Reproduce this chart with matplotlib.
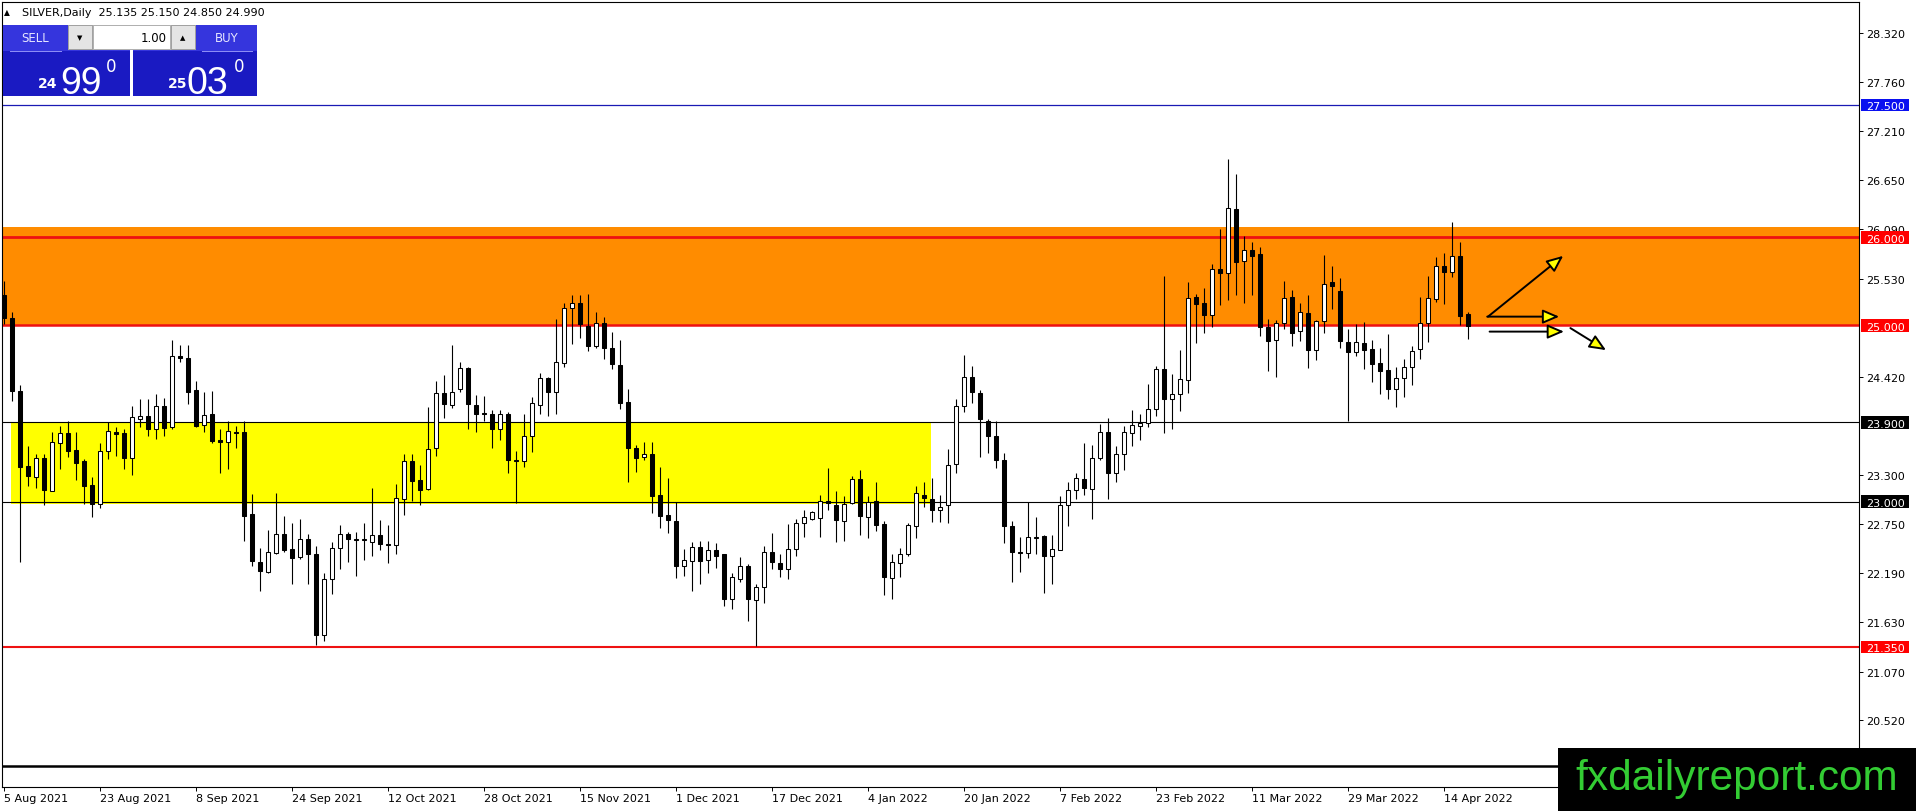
import numpy as np
import matplotlib
matplotlib.use("Agg")
import matplotlib.pyplot as plt
from matplotlib.patches import Rectangle, FancyArrowPatch
import matplotlib.transforms as mtransforms

# ---------------- data ----------------
opens = [25.35, 25.09, 24.26, 23.40, 23.28, 23.49, 23.12, 23.67, 23.78, 23.59,
         23.46, 23.19, 22.97, 23.57, 23.79, 23.78, 23.50, 23.94, 23.97, 23.82,
         24.08, 23.85, 24.65, 24.63, 24.27, 23.87, 23.99, 23.70, 23.68, 23.79,
         23.79, 22.86, 22.31, 22.20, 22.42, 22.63, 22.46, 22.37, 22.57, 22.41,
         21.49, 22.12, 22.47, 22.63, 22.57, 22.56, 22.54, 22.62, 22.52, 22.51,
         23.03, 23.46, 23.24, 23.14, 23.61, 24.23, 24.10, 24.28, 24.52, 24.10,
         24.01, 24.00, 23.83, 23.99, 23.47, 23.46, 23.74, 24.10, 24.40, 24.24,
         24.57, 25.20, 25.25, 24.99, 24.77, 25.03, 24.74, 24.55, 24.13, 23.61,
         23.51, 23.54, 23.07, 22.85, 22.78, 22.27, 22.33, 22.48, 22.34, 22.45,
         22.40, 21.90, 22.12, 22.27, 21.88, 22.03, 22.43, 22.30, 22.23, 22.46,
         22.76, 22.80, 22.81, 23.01, 22.96, 22.78, 22.98, 23.26, 22.83, 23.01,
         22.75, 22.13, 22.30, 22.40, 22.72, 23.08, 23.03, 22.91, 22.96, 23.43,
         24.08, 24.41, 24.23, 23.92, 23.75, 23.47, 22.72, 22.43, 22.42, 22.59,
         22.61, 22.38, 22.45, 22.96, 23.13, 23.26, 23.14, 23.50, 23.79, 23.32,
         23.54, 23.78, 23.86, 23.89, 24.05, 24.50, 24.17, 24.22, 24.38, 25.32,
         25.25, 25.12, 25.64, 25.59, 26.32, 25.73, 25.86, 25.81, 24.98, 24.83,
         25.03, 25.32, 24.94, 25.14, 24.72, 25.05, 25.49, 25.39, 24.81, 24.70,
         24.80, 24.73, 24.57, 24.49, 24.28, 24.40, 24.53, 24.73, 25.03, 25.30,
         25.68, 25.61, 25.79, 25.135]
highs = [25.50, 25.15, 24.32, 23.63, 23.54, 23.54, 23.79, 23.86, 23.92, 23.79,
         23.48, 23.28, 23.66, 23.90, 23.85, 23.83, 24.08, 24.17, 24.17, 24.22,
         24.18, 24.83, 24.78, 24.78, 24.37, 24.25, 24.26, 23.82, 23.91, 23.86,
         23.91, 23.09, 22.47, 22.68, 23.10, 22.84, 22.76, 22.80, 22.63, 22.50,
         22.19, 22.54, 22.73, 22.65, 22.65, 22.76, 23.15, 22.79, 22.73, 23.20,
         23.54, 23.54, 23.41, 24.07, 24.37, 24.44, 24.78, 24.58, 24.53, 24.21,
         24.20, 24.04, 24.04, 24.02, 23.57, 24.00, 24.19, 24.46, 24.41, 25.07,
         25.25, 25.34, 25.34, 25.36, 25.15, 25.10, 24.92, 24.83, 24.28, 23.64,
         23.68, 23.68, 23.39, 23.27, 22.99, 22.46, 22.54, 22.55, 22.55, 22.53,
         22.41, 22.19, 22.37, 22.29, 22.07, 22.50, 22.64, 22.40, 22.75, 22.80,
         22.90, 22.89, 23.08, 23.38, 23.12, 23.06, 23.29, 23.36, 23.06, 23.22,
         22.78, 22.40, 22.47, 22.76, 23.18, 23.22, 23.27, 23.07, 23.60, 24.16,
         24.66, 24.54, 24.27, 23.94, 23.92, 23.55, 22.78, 22.60, 22.99, 22.82,
         22.62, 22.62, 23.06, 23.22, 23.32, 23.66, 23.64, 23.88, 23.95, 23.63,
         23.86, 24.04, 24.00, 24.33, 24.54, 25.56, 24.45, 24.72, 25.49, 25.36,
         25.43, 25.70, 26.10, 26.89, 26.72, 26.02, 25.95, 25.89, 25.07, 25.06,
         25.50, 25.40, 25.26, 25.34, 25.06, 25.80, 25.68, 25.54, 24.96, 25.02,
         25.04, 24.84, 24.74, 24.90, 24.53, 24.62, 24.77, 25.32, 25.56, 25.78,
         25.82, 26.18, 25.95, 25.150]
lows = [25.02, 24.14, 22.31, 23.18, 23.16, 22.96, 23.12, 23.37, 23.51, 23.24,
        22.97, 22.82, 22.93, 23.48, 23.52, 23.37, 23.30, 23.85, 23.75, 23.71,
        23.74, 23.82, 24.58, 24.11, 23.85, 23.79, 23.67, 23.33, 23.37, 23.61,
        22.55, 22.27, 21.98, 22.19, 22.41, 22.43, 22.06, 22.35, 22.06, 21.37,
        21.42, 21.95, 22.23, 22.31, 22.16, 22.34, 22.38, 22.45, 22.30, 22.41,
        22.85, 23.01, 22.96, 23.13, 23.52, 23.95, 24.06, 24.24, 23.82, 23.79,
        23.91, 23.61, 23.70, 23.33, 22.98, 23.39, 23.56, 24.00, 23.97, 24.00,
        24.53, 24.79, 24.86, 24.71, 24.74, 24.62, 24.50, 24.05, 23.22, 23.34,
        23.47, 22.87, 22.70, 22.64, 22.13, 22.16, 21.98, 22.07, 22.19, 22.25,
        21.81, 21.78, 22.09, 21.64, 21.36, 21.85, 22.24, 22.14, 22.12, 22.38,
        22.60, 22.79, 22.60, 22.91, 22.54, 22.55, 22.97, 22.62, 22.59, 22.67,
        21.94, 21.89, 22.14, 22.38, 22.59, 22.94, 22.77, 22.77, 22.76, 23.33,
        24.02, 24.12, 23.51, 23.55, 23.38, 22.53, 22.09, 22.20, 22.36, 22.41,
        21.96, 22.07, 22.45, 22.72, 23.03, 23.08, 22.80, 23.47, 23.03, 23.22,
        23.36, 23.63, 23.70, 23.85, 23.97, 23.78, 23.82, 24.03, 24.23, 24.80,
        24.91, 24.98, 25.23, 25.29, 25.34, 25.26, 25.35, 24.88, 24.48, 24.41,
        24.96, 24.77, 24.82, 24.52, 24.61, 24.91, 25.19, 24.74, 23.91, 24.65,
        24.51, 24.36, 24.22, 24.17, 24.07, 24.19, 24.32, 24.62, 24.81, 25.27,
        25.24, 25.55, 25.00, 24.850]
closes = [25.08, 24.26, 23.39, 23.29, 23.49, 23.13, 23.68, 23.78, 23.58, 23.44,
          23.18, 22.97, 23.58, 23.80, 23.77, 23.49, 23.96, 23.97, 23.83, 24.08,
          23.84, 24.65, 24.63, 24.25, 23.86, 23.98, 23.69, 23.68, 23.80, 23.78,
          22.84, 22.33, 22.21, 22.43, 22.63, 22.45, 22.36, 22.58, 22.40, 21.48,
          22.12, 22.47, 22.63, 22.57, 22.56, 22.57, 22.62, 22.52, 22.51, 23.04,
          23.46, 23.23, 23.13, 23.60, 24.23, 24.11, 24.24, 24.52, 24.11, 24.00,
          24.00, 23.82, 23.99, 23.47, 23.46, 23.74, 24.12, 24.40, 24.25, 24.58,
          25.20, 25.26, 25.02, 24.77, 25.03, 24.74, 24.56, 24.12, 23.61, 23.50,
          23.54, 23.06, 22.84, 22.79, 22.27, 22.34, 22.49, 22.33, 22.45, 22.38,
          21.90, 22.14, 22.27, 21.89, 22.03, 22.43, 22.31, 22.23, 22.46, 22.76,
          22.82, 22.88, 23.01, 22.98, 22.79, 22.97, 23.26, 22.84, 22.99, 22.74,
          22.14, 22.31, 22.41, 22.73, 23.10, 23.04, 22.91, 22.94, 23.42, 24.08,
          24.41, 24.24, 23.94, 23.75, 23.47, 22.72, 22.43, 22.42, 22.60, 22.60,
          22.38, 22.46, 22.96, 23.13, 23.27, 23.15, 23.50, 23.79, 23.32, 23.54,
          23.79, 23.87, 23.89, 24.05, 24.50, 24.17, 24.22, 24.39, 25.31, 25.24,
          25.12, 25.64, 25.60, 26.33, 25.72, 25.86, 25.79, 24.98, 24.82, 25.03,
          25.31, 24.91, 25.15, 24.72, 25.05, 25.47, 25.45, 24.82, 24.70, 24.81,
          24.72, 24.56, 24.48, 24.28, 24.40, 24.53, 24.71, 25.03, 25.31, 25.67,
          25.61, 25.79, 25.11, 24.990]

date_labels = ["5 Aug 2021", "23 Aug 2021", "8 Sep 2021", "24 Sep 2021",
               "12 Oct 2021", "28 Oct 2021", "15 Nov 2021", "1 Dec 2021",
               "17 Dec 2021", "4 Jan 2022", "20 Jan 2022", "7 Feb 2022",
               "23 Feb 2022", "11 Mar 2022", "29 Mar 2022", "14 Apr 2022"]
date_label_bars = [0, 12, 24, 36, 48, 60, 72, 84, 96, 108, 120, 132, 144, 156, 168, 180]

price_ticks = [28.320, 27.760, 27.210, 26.650, 26.090, 25.530, 24.420,
               23.300, 22.750, 22.190, 21.630, 21.070, 20.520]

levels = [27.500, 26.000, 25.000, 23.900, 23.000, 21.350]
extra_line = 20.0
orange_zone = (25.0, 26.12)
yellow_zone = (22.97, 23.90)
yellow_bars = (0.875, 115.9)

header = "SILVER,Daily  25.135 25.150 24.850 24.990"
sell_price = ("24", "99", "0")
buy_price = ("25", "03", "0")
lot = "1.00"

# arrow annotations (bar index, price)
arrows = [((185.5, 25.10), (194.9, 25.79)),
          ((185.4, 25.10), (194.4, 25.10)),
          ((185.7, 24.93), (195.0, 24.93)),
          ((195.8, 24.97), (200.25, 24.72))]

# ---------------- styles ----------------
W, H, DPI = 1916, 812, 100
RED = "#ee1111"
level_style = {
    27.500: dict(line="#1a1ab4", box="#0a10f0", lw=0.9),
    26.000: dict(line=RED, box="#ff0000", lw=2.0),
    25.000: dict(line=RED, box="#ff0000", lw=1.8),
    23.900: dict(line="black", box="black", lw=0.8),
    23.000: dict(line="black", box="black", lw=0.8),
    21.350: dict(line=RED, box="#ff0000", lw=1.5),
}

fig = plt.figure(figsize=(W / DPI, H / DPI), dpi=DPI)
fig.patch.set_facecolor("white")
ax = fig.add_axes([2 / W, (H - 788) / H, 1857 / W, 785 / H])
ax.set_facecolor("white")

def fx(px):
    return px / W

def fy(py):
    return (H - py) / H

# zones
ax.axhspan(orange_zone[0], orange_zone[1], color="#ff8c00", zorder=0.5, lw=0)
ax.add_patch(Rectangle((yellow_bars[0], yellow_zone[0]), yellow_bars[1] - yellow_bars[0],
                       yellow_zone[1] - yellow_zone[0], color="#ffff00", zorder=0.6, lw=0))

# level lines
for lv in levels:
    st = level_style[lv]
    ax.axhline(lv, color=st["line"], lw=st["lw"], zorder=2)
ax.axhline(extra_line, color="black", lw=1.8, zorder=2)

# candles
o = np.array(opens); h = np.array(highs); l = np.array(lows); c = np.array(closes)
x = np.arange(len(o))
up = c >= o
ax.vlines(x, l, h, color="black", lw=0.8, zorder=4)
body_h = np.maximum(np.abs(c - o), 0.006)
ax.bar(x, body_h, bottom=np.minimum(o, c), width=0.55,
       color=np.where(up, "white", "black"), edgecolor="black", linewidth=0.75, zorder=5)

# arrows
for (p0, p1) in arrows:
    ap = FancyArrowPatch(p0, p1, arrowstyle="-|>,head_length=10,head_width=4.3",
                         mutation_scale=1, fc="#ffff00", ec="black", lw=1.4,
                         shrinkA=0, shrinkB=0, zorder=8)
    ax.add_patch(ap)

# axes limits & ticks
ax.set_xlim(-0.25, 231.875)
ax.set_ylim(19.76, 28.672)
for s in ax.spines.values():
    s.set_linewidth(0.8)
    s.set_color("black")
ax.yaxis.tick_right()
ax.set_yticks(price_ticks)
ax.set_yticklabels([f"{v:.3f}" for v in price_ticks])
ax.tick_params(axis="y", direction="out", length=3, width=0.7, pad=2.2, labelsize=8,
               labelcolor="black")
ax.set_xticks(date_label_bars)
ax.set_xticklabels(date_labels, ha="left")
ax.tick_params(axis="x", direction="out", length=3, width=0.7, pad=1.5, labelsize=8)

# level labels on the right
ppu = 785 / (28.672 - 19.76)
tr = mtransforms.blended_transform_factory(fig.transFigure, ax.transData)
for lv in levels:
    st = level_style[lv]
    fig.add_artist(Rectangle((fx(1861), lv - 6.2 / ppu), 48 / W, 12.4 / ppu,
                             transform=tr, fc=st["box"], ec="none", zorder=10))
    fig.text(fx(1866), lv - 4.2 / ppu, f"{lv:.3f}", transform=tr, color="white",
             fontsize=8, va="baseline", ha="left", zorder=11)

# header text
fig.text(fx(4), fy(13), "\u25b2", fontsize=5.5, va="center", ha="left", zorder=12)
fig.text(fx(22), fy(13), header, fontsize=8, va="center", ha="left", zorder=12)

# trade panel
def prect(x0, y0, x1, y1, **kw):
    fig.add_artist(Rectangle((fx(x0), fy(y1)), (x1 - x0) / W, (y1 - y0) / H,
                             transform=fig.transFigure, zorder=12, **kw))

for (a, b) in [(3, 130), (133, 257)]:
    prect(a, 26, b, 52, fc="#3535dd", ec="none")
    prect(a, 52, b, 97, fc="#1a1ac2", ec="none")
prect(10, 51.5, 62, 52.5, fc="#8c8cf5", ec="none")
prect(202, 51.5, 253, 52.5, fc="#8c8cf5", ec="none")
prect(68, 26, 195, 50, fc="#d8d8d8", ec="#a0a0a0", lw=0.7)
prect(68, 26, 92, 50, fc="#e4e4e4", ec="#a0a0a0", lw=0.7)
prect(93, 26, 170, 50, fc="white", ec="#b0b0b0", lw=0.7)
prect(171, 26, 195, 50, fc="#e4e4e4", ec="#a0a0a0", lw=0.7)
fig.text(fx(80), fy(38), "\u25bc", fontsize=5, ha="center", va="center", zorder=13)
fig.text(fx(183), fy(38), "\u25b2", fontsize=5, ha="center", va="center", zorder=13)
fig.text(fx(167), fy(38), lot, fontsize=8.5, ha="right", va="center", zorder=13)
fig.text(fx(35), fy(39), "SELL", fontsize=8.5, color="#e6e6ff", ha="center", va="center", zorder=13)
fig.text(fx(227), fy(39), "BUY", fontsize=8.5, color="#e6e6ff", ha="center", va="center", zorder=13)

for (x_small, x_big, x_sup, parts) in [(38, 60, 106, sell_price), (168, 187, 234, buy_price)]:
    fig.text(fx(x_small), fy(87.5), parts[0], fontsize=10, fontweight="bold", color="white",
             ha="left", va="baseline", zorder=13)
    fig.text(fx(x_big), fy(94.5), parts[1], fontsize=27, family="Liberation Sans",
             color="white", ha="left", va="baseline", zorder=13)
    fig.text(fx(x_sup), fy(72), parts[2], fontsize=12, color="white",
             ha="left", va="baseline", zorder=13)

# watermark
fig.add_artist(Rectangle((fx(1558), 0), (W - 1558) / W, (812 - 749) / H,
                         transform=fig.transFigure, fc="black", ec="none", zorder=20))
fig.text(fx(1575), fy(790), "fxdailyreport.com", color="#33cc33", fontsize=30.5,
         family="Liberation Sans", ha="left", va="baseline", zorder=21)

fig.savefig("out.png", dpi=DPI)
